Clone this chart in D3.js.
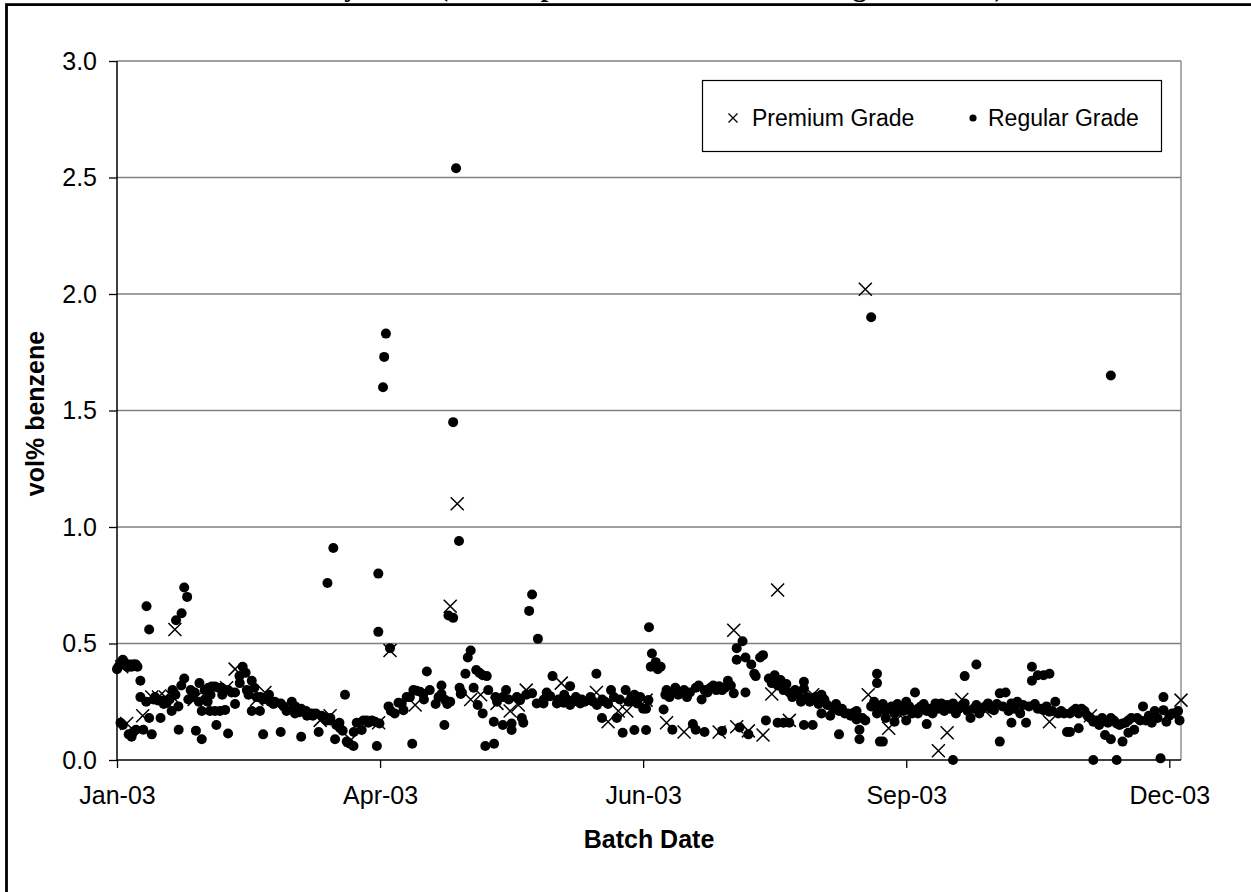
<!DOCTYPE html>
<html><head><meta charset="utf-8">
<script src="https://cdn.jsdelivr.net/npm/d3@7"></script>
<style>
html,body{margin:0;padding:0;background:#fff;}
svg{display:block;}
text{font-family:"Liberation Sans",Arial,sans-serif;fill:#000;}
</style></head>
<body>
<svg id="chart" width="1251" height="892"></svg>
<script>
// ---------------- DATA ----------------
const chartTitle = "Benzene Levels by Batch (All Samples from Premium and Regular Grade)";
const seriesNames = ["Premium Grade", "Regular Grade"];
const yTickValues = [0, 0.5, 1.0, 1.5, 2.0, 2.5, 3.0];
const xTickDayOffsets = [0, 90, 180, 270, 360];          // days after 1 Jan 2003
const xTickLabels = ["Jan-03", "Apr-03", "Jun-03", "Sep-03", "Dec-03"];
// [day of 2003 (0 = 1 Jan), vol% benzene]
const premiumPoints = [
 [1.6,0.40],[3.3,0.157],[8.8,0.19],[11.9,0.27],[14.2,0.27],[16.5,0.27],[18.7,0.275],[19.8,0.56],
 [26.4,0.26],[37.5,0.31],[40.4,0.39],[47.8,0.26],[50.6,0.29],[69.5,0.17],[72.9,0.19],[80,0.086],
 [89.5,0.16],[93.4,0.47],[102,0.236],[114,0.66],[116.4,1.10],[121,0.26],[124.4,0.28],[130,0.243],
 [134.5,0.21],[137.3,0.236],[140,0.30],[152,0.33],[164,0.29],[168,0.164],[171.5,0.21],[174.4,0.21],
 [181,0.257],[188,0.16],[194,0.12],[206,0.12],[211,0.557],[212,0.143],[216,0.125],[221,0.107],
 [224,0.283],[226,0.73],[230,0.17],[238,0.28],[256,2.02],[257,0.28],[264,0.136],[268,0.19],
 [281,0.04],[284,0.117],[289,0.26],[297,0.21],[319,0.164],[333,0.19],[364,0.257]
];
const regularPoints = [
 [0,0.39],[0.5,0.40],[1,0.41],[1.5,0.42],[2,0.43],[2.5,0.42],[3,0.41],[3.5,0.40],[4,0.40],[4.5,0.41],
 [5,0.40],[5.5,0.41],[6,0.41],[6.5,0.41],[7,0.40],[1.2,0.16],[2,0.15],[4,0.11],[5,0.10],[5.6,0.12],
 [6.5,0.13],[8,0.34],[9,0.13],[10.1,0.66],[11,0.56],[11,0.18],[11.9,0.11],[14.9,0.18],[20.2,0.60],
 [22.1,0.63],[23,0.74],[24,0.70],[12.5,0.26],[14,0.255],[15.8,0.255],[17,0.245],[18,0.26],[18.7,0.21],
 [21,0.23],[21.1,0.13],[23,0.35],[24.4,0.26],[25.2,0.30],[26.6,0.29],[28.2,0.33],[27,0.126],[29,0.089],
 [29,0.21],[30,0.26],[31,0.25],
 [8,0.27],[10,0.25],[13,0.27],[16,0.24],[19,0.30],[20,0.28],[22,0.32],[26,0.27],[28,0.25],[30,0.30],
 [31.3,0.31],[32.4,0.315],[33.5,0.315],[34.7,0.31],[35.8,0.31],[36.6,0.30],[31.8,0.21],[33.5,0.21],
 [35.2,0.21],[37,0.215],[34,0.15],[38,0.114],[39.2,0.29],[40.4,0.29],[43,0.40],[44,0.374],[40.4,0.24],
 [41.9,0.36],[44.4,0.30],[46.1,0.34],[47,0.31],[47.8,0.27],[49,0.27],[50,0.26],[51.2,0.27],[52.4,0.25],
 [53.5,0.24],[46.1,0.21],[48.9,0.21],[50,0.11],[56,0.243],[56,0.12],
 [32,0.28],[36,0.28],[38,0.30],[42,0.33],[45,0.28],[52,0.28],[54,0.25],[57,0.23],[58,0.21],
 [59.8,0.25],[60.1,0.22],[60.9,0.20],[62.4,0.205],[63,0.10],[64.7,0.21],[66.6,0.20],[69,0.12],[70.6,0.185],
 [71.8,0.17],[72.9,0.17],[72,0.76],[74,0.91],[76.1,0.16],[76.3,0.136],[77.2,0.126],[78,0.28],[74.6,0.089],
 [78.6,0.079],[79.5,0.071],[80.9,0.06],[82,0.16],[83.7,0.129],[84.3,0.17],[85.4,0.17],[87.2,0.17],
 [88.3,0.164],[88.9,0.06],[89.4,0.80],[89.4,0.55],[89.8,0.157],
 [61,0.23],[63,0.22],[65,0.19],[67,0.19],[68,0.20],[70,0.19],[73,0.18],[75,0.15],[81,0.12],[86,0.16],
 [91,1.60],[91.4,1.73],[92,1.83],[93.4,0.48],[92.9,0.23],[93.7,0.21],[96.3,0.246],[97.4,0.243],[98,0.214],
 [99.1,0.27],[100.2,0.27],[101.4,0.30],[102.5,0.297],[103.7,0.293],[104.8,0.283],[101,0.07],[106,0.38],
 [109,0.24],[111,0.32],[111,0.283],[112.3,0.257],[113,0.24],[112,0.15],[113.4,0.62],[115,0.61],[115,1.45],
 [116,2.54],[117,0.94],[117.2,0.31],[117.6,0.283],[119.2,0.37],[120,0.44],[121,0.47],
 [95,0.20],[105,0.26],[107,0.30],[110,0.27],[114,0.25],[118,0.29],
 [122,0.31],[122.9,0.386],[124,0.374],[125.1,0.364],[126.5,0.36],[123.4,0.236],[125.1,0.20],[126,0.06],
 [129,0.07],[128.9,0.164],[129.5,0.27],[132,0.27],[133.1,0.30],[132,0.15],[135,0.157],[135,0.129],
 [136.8,0.27],[137.9,0.257],[138.5,0.18],[139,0.16],[142,0.286],[143.6,0.243],[145.9,0.243],[148.2,0.274],
 [149,0.36],[141,0.64],[142,0.71],[144,0.52],
 [127,0.30],[130,0.25],[134,0.26],[140,0.28],[146,0.26],[147,0.29],
 [150.5,0.243],[152.8,0.246],[155,0.317],[155,0.236],[158.5,0.243],[161.8,0.257],[164,0.37],[164.2,0.236],
 [165.9,0.18],[169,0.30],[171,0.18],[173,0.117],[177,0.129],[181,0.129],[174,0.30],[176,0.27],[178,0.243],
 [180,0.22],[181.8,0.257],[182,0.57],[181,0.22],[183,0.457],[182.6,0.40],[184,0.41],[184.3,0.42],[185,0.39],
 [186,0.40],
 [151,0.26],[153,0.28],[154,0.26],[156,0.25],[157,0.27],[159,0.26],[160,0.25],[162,0.27],[163,0.25],
 [166,0.26],[167,0.25],[168,0.24],[170,0.27],[172,0.26],[175,0.25],[177,0.28],[179,0.27],
 [187,0.217],[187.6,0.28],[190,0.29],[192,0.28],[195,0.27],[190,0.13],[197,0.154],[198,0.13],[201,0.12],
 [207,0.125],[199,0.32],[200,0.26],[203,0.31],[205,0.30],[206,0.317],[209,0.34],[211,0.286],[212,0.48],
 [214,0.51],[212,0.43],[215,0.44],[217,0.41],[218,0.37],[218.5,0.36],[220,0.44],[221,0.45],[215,0.29],
 [213,0.14],[216,0.11],[222,0.17],
 [188,0.30],[189,0.27],[191,0.31],[193,0.29],[194,0.30],[196,0.29],[198,0.31],[201,0.30],[202,0.29],
 [204,0.32],[207,0.30],[208,0.31],[210,0.32],
 [223,0.35],[225,0.364],[227,0.343],[229,0.326],[231,0.27],[232,0.30],[235,0.336],[235,0.307],[236,0.27],
 [238,0.264],[239,0.27],[241,0.28],[226,0.16],[228,0.16],[230,0.16],[235,0.15],[238,0.15],[241,0.2],
 [243,0.236],[244,0.19],[246,0.24],[248,0.22],[250,0.2],[252,0.203],[253,0.174],[254,0.13],[254,0.089],
 [247,0.11],
 [224,0.33],[226,0.32],[228,0.30],[230,0.29],[233,0.28],[234,0.25],[237,0.25],[240,0.24],[242,0.26],
 [245,0.22],[247,0.21],[249,0.20],[251,0.19],[253,0.21],[255,0.18],[256,0.17],
 [258,1.90],[260,0.37],[260,0.33],[258,0.23],[260,0.2],[262,0.24],[264,0.22],[266,0.2],[268,0.22],[271,0.23],
 [261,0.079],[262,0.079],[263,0.18],[266,0.164],[270,0.17],[273,0.29],[274,0.2],[274,0.22],
 [259,0.25],[261,0.22],[263,0.21],[265,0.23],[267,0.24],[269,0.21],[270,0.25],[272,0.20],
 [276,0.24],[277,0.154],[278,0.22],[280,0.243],[282,0.243],[284,0.236],[286,0.243],[288,0.22],[290,0.36],
 [290,0.243],[292,0.18],[294,0.41],[294,0.236],[296,0.22],[298,0.243],[300,0.214],[302,0.286],[302,0.079],
 [304,0.29],[286,0.0],[306,0.16],[306,0.243],[308,0.25],[311,0.16],[310,0.236],[313,0.4],[313,0.34],
 [315,0.364],[317,0.364],[319,0.37],[315,0.22],[317,0.214],[319,0.207],[321,0.25],
 [275,0.23],[277,0.21],[279,0.20],[281,0.22],[283,0.21],[285,0.22],[287,0.20],[289,0.23],[291,0.21],
 [293,0.22],[295,0.20],[297,0.23],[299,0.22],[301,0.24],[303,0.23],[305,0.21],[307,0.22],[309,0.20],
 [312,0.23],[314,0.24],[316,0.22],[318,0.23],[320,0.21],
 [322,0.2],[324,0.2],[325,0.12],[326,0.12],[329,0.136],[326,0.2],[328,0.22],[330,0.22],[332,0.19],[334,0.0],
 [334,0.164],[336,0.15],[338,0.107],[340,0.089],[340,0.18],[342,0.0],[342,0.157],[344,0.079],[344,0.157],
 [346,0.117],[346,0.17],[348,0.13],[349,0.18],[351,0.23],[352,0.17],[354,0.16],[355,0.21],[357,0.007],
 [358,0.27],[358,0.214],[359,0.164],[361,0.2],[362,0.2],[340,1.65],
 [323,0.21],[327,0.21],[329,0.20],[331,0.21],[333,0.18],[335,0.17],[337,0.18],[339,0.16],[341,0.17],
 [343,0.15],[345,0.16],[347,0.18],[350,0.17],[353,0.19],[356,0.18],[360,0.19],[363,0.21],[363.5,0.17]
];

// ---------------- LAYOUT ----------------
const svg = d3.select("#chart");
const plot = {left:117, right:1181, top:61, bottom:760};
const start = new Date(2003,0,1);
const dayToDate = d => start.getTime() + d*86400000;
const x = d3.scaleTime().domain([start, new Date(2003,11,31)]).range([plot.left, plot.right]);
const y = d3.scaleLinear().domain([0,3]).range([plot.bottom, plot.top]);

// outer frame
svg.append("rect").attr("x",6.5).attr("y",4.6).attr("width",1400).attr("height",1000)
  .attr("fill","none").attr("stroke","#000").attr("stroke-width",2.8);

// title (cut off at top of the picture: only descenders remain visible)
const title = svg.append("text").attr("y",-4.5)
  .style("font-family",'"Liberation Serif","Times New Roman",serif')
  .style("font-weight","bold").style("font-size","26px").text(chartTitle);
(function(){
  const n = title.node();
  const iy = chartTitle.indexOf("by")+1, ic = chartTitle.lastIndexOf(")");
  const d0 = n.getStartPositionOfChar(ic).x - n.getStartPositionOfChar(iy).x;
  const fs = 26 * (1002-351) / d0;
  title.style("font-size", fs+"px");
  const p = n.getStartPositionOfChar(iy).x, w = n.getExtentOfChar(iy).width;
  title.attr("x", 351 - (p + w/2));
})();

// gridlines
svg.append("g").selectAll("line").data(yTickValues.filter(v=>v>0)).join("line")
  .attr("x1",plot.left).attr("x2",plot.right).attr("y1",d=>y(d)).attr("y2",d=>y(d))
  .attr("stroke","#808080").attr("stroke-width",1.3);
// right border of plot area
svg.append("line").attr("x1",plot.right).attr("x2",plot.right).attr("y1",plot.top).attr("y2",plot.bottom)
  .attr("stroke","#808080").attr("stroke-width",1.3);

// axes
const yAxis = d3.axisLeft(y).tickValues(yTickValues).tickFormat(d3.format(".1f")).tickSize(8).tickPadding(12);
const gy = svg.append("g").attr("transform",`translate(${plot.left},0)`).call(yAxis);
const xTickDates = xTickDayOffsets.map(d => d3.timeDay.offset(start, d));
const xAxis = d3.axisBottom(x).tickValues(xTickDates).tickFormat((d,i)=>xTickLabels[i]).tickSize(8).tickPadding(18);
const gx = svg.append("g").attr("transform",`translate(0,${plot.bottom})`).call(xAxis);
[gy,gx].forEach(g=>{
  g.select(".domain").attr("stroke","#000").attr("stroke-width",1.5);
  g.selectAll(".tick line").attr("stroke","#000").attr("stroke-width",1.3);
  g.selectAll("text").style("font-size","25px").style("font-family",'"Liberation Sans",Arial,sans-serif').attr("fill","#000");
});
gx.select(".domain").attr("d",`M${plot.left},0H${plot.right}`);
gy.select(".domain").attr("d",`M0,${plot.bottom}V${plot.top}`);

// axis titles
svg.append("text").attr("transform",`translate(44,${(plot.top+plot.bottom)/2+3}) rotate(-90)`)
  .attr("text-anchor","middle").style("font-size","25px").style("font-weight","bold").text("vol% benzene");
svg.append("text").attr("x",(plot.left+plot.right)/2).attr("y",848)
  .attr("text-anchor","middle").style("font-size","25px").style("font-weight","bold").text("Batch Date");

// points
const xs = d => x(new Date(dayToDate(d[0])));
svg.append("g").selectAll("circle").data(regularPoints).join("circle")
  .attr("cx",xs).attr("cy",d=>y(d[1])).attr("r",5).attr("fill","#000");
const s = 6.5;
svg.append("g").selectAll("path").data(premiumPoints).join("path")
  .attr("d",d=>{const cx=xs(d), cy=y(d[1]); return `M${cx-s},${cy-s}L${cx+s},${cy+s}M${cx-s},${cy+s}L${cx+s},${cy-s}`;})
  .attr("stroke","#000").attr("stroke-width",1.5).attr("fill","none");

// legend
const lg = svg.append("g");
lg.append("rect").attr("x",702.5).attr("y",80.5).attr("width",459).attr("height",71)
  .attr("fill","#fff").attr("stroke","#000").attr("stroke-width",1.2);
const ls = 4.5, lx = 733, ly = 118;
lg.append("path").attr("d",`M${lx-ls},${ly-ls}L${lx+ls},${ly+ls}M${lx-ls},${ly+ls}L${lx+ls},${ly-ls}`)
  .attr("stroke","#000").attr("stroke-width",1.3);
lg.append("text").attr("x",752).attr("y",126).style("font-size","23px").text(seriesNames[0]);
lg.append("circle").attr("cx",973).attr("cy",118).attr("r",3.6).attr("fill","#000");
lg.append("text").attr("x",988).attr("y",126).style("font-size","23px").text(seriesNames[1]);
</script>
</body></html>
